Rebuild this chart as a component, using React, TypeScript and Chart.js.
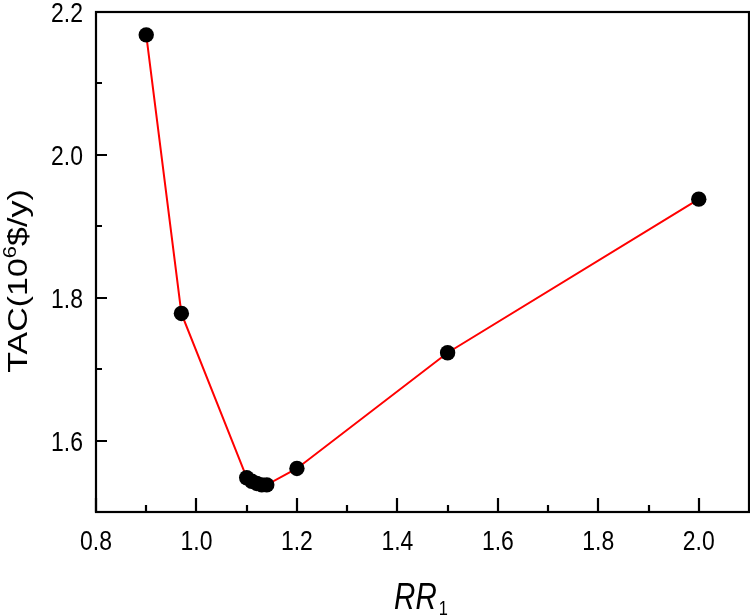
import React, { useEffect, useRef } from "react";
import { Chart, registerables } from "chart.js";

Chart.register(...registerables);

// Data
const rrValues = [0.9, 0.97, 1.1, 1.11, 1.12, 1.13, 1.14, 1.2, 1.5, 2.0];
const tacValues = [2.168, 1.778, 1.548, 1.543, 1.54, 1.538, 1.538, 1.561, 1.723, 1.938];

const xMajorTicks = [0.8, 1.0, 1.2, 1.4, 1.6, 1.8, 2.0];
const xMinorTicks = [0.9, 1.1, 1.3, 1.5, 1.7, 1.9];
const xTickLabels = ["0.8", "1.0", "1.2", "1.4", "1.6", "1.8", "2.0"];
const yMajorTicks = [2.2, 2.0, 1.8, 1.6];
const yMinorTicks = [2.1, 1.9, 1.7];
const yTickLabels = ["2.2", "2.0", "1.8", "1.6"];

const FONT = '"Liberation Sans", Arial, Helvetica, sans-serif';
const SQUASH = 0.82;

const axesPlugin = {
  id: "customAxes",
  afterDatasetsDraw(chart: any) {
    const ctx: CanvasRenderingContext2D = chart.ctx;
    const { left, right, top, bottom } = chart.chartArea;
    const xs = chart.scales.x;
    const ys = chart.scales.y;
    ctx.save();
    ctx.strokeStyle = "#000";
    ctx.lineWidth = 2.2;
    ctx.strokeRect(left, top, right - left, bottom - top);

    // inward ticks
    ctx.beginPath();
    xMajorTicks.forEach((v) => {
      const px = Math.round(xs.getPixelForValue(v));
      ctx.moveTo(px, bottom);
      ctx.lineTo(px, bottom - 14);
    });
    xMinorTicks.forEach((v) => {
      const px = Math.round(xs.getPixelForValue(v));
      ctx.moveTo(px, bottom);
      ctx.lineTo(px, bottom - 7);
    });
    yMajorTicks.forEach((v) => {
      const py = Math.round(ys.getPixelForValue(v));
      ctx.moveTo(left, py);
      ctx.lineTo(left + 11, py);
    });
    yMinorTicks.forEach((v) => {
      const py = Math.round(ys.getPixelForValue(v));
      ctx.moveTo(left, py);
      ctx.lineTo(left + 6, py);
    });
    ctx.stroke();

    ctx.fillStyle = "#000";
    const drawText = (text: string, x: number, y: number, font: string, align: CanvasTextAlign) => {
      ctx.save();
      ctx.font = font;
      ctx.textAlign = align;
      ctx.textBaseline = "alphabetic";
      ctx.translate(x, y);
      ctx.scale(SQUASH, 1);
      ctx.fillText(text, 0, 0);
      ctx.restore();
    };

    // x tick labels
    xMajorTicks.forEach((v, i) => {
      const px = xs.getPixelForValue(v);
      drawText(xTickLabels[i], px, 550, `28px ${FONT}`, "center");
    });
    // y tick labels
    yMajorTicks.forEach((v, i) => {
      const py = ys.getPixelForValue(v);
      drawText(yTickLabels[i], 83, py + 10, `28px ${FONT}`, "right");
    });

    // x title: RR with subscript 1
    ctx.save();
    const mainFont = `italic 36px ${FONT}`;
    const subFont = `20px ${FONT}`;
    ctx.font = mainFont;
    const wMain = ctx.measureText("RR").width * SQUASH;
    ctx.font = subFont;
    const wSub = ctx.measureText("1").width * SQUASH;
    ctx.restore();
    const cx = 421;
    const startX = cx - (wMain + wSub + 2) / 2;
    drawText("RR", startX, 609, mainFont, "left");
    drawText("1", startX + wMain + 2, 615, subFont, "left");

    // y title: TAC(10^6$/y)
    ctx.save();
    ctx.translate(27, 281);
    ctx.rotate(-Math.PI / 2);
    ctx.scale(1, SQUASH);
    ctx.textBaseline = "alphabetic";
    ctx.textAlign = "left";
    const f1 = `34px ${FONT}`;
    const f2 = `22px ${FONT}`;
    ctx.font = f1;
    const p1 = "TAC(10";
    const p3 = "$/y)";
    const w1 = ctx.measureText(p1).width;
    const w3 = ctx.measureText(p3).width;
    ctx.font = f2;
    const w2 = ctx.measureText("6").width;
    const total = w1 + w2 + w3;
    let x0 = -total / 2;
    ctx.font = f1;
    ctx.fillText(p1, x0, 0);
    x0 += w1;
    ctx.font = f2;
    ctx.fillText("6", x0, -14);
    x0 += w2;
    ctx.font = f1;
    ctx.fillText(p3, x0, 0);
    ctx.restore();

    ctx.restore();
  },
};

export default function App() {
  const canvasRef = useRef<HTMLCanvasElement | null>(null);

  useEffect(() => {
    if (!canvasRef.current) return;
    const chart = new Chart(canvasRef.current, {
      type: "line",
      data: {
        datasets: [
          {
            data: rrValues.map((x, i) => ({ x, y: tacValues[i] })),
            borderColor: "#ff0000",
            borderWidth: 2,
            tension: 0,
            pointRadius: 7.7,
            pointHoverRadius: 7.7,
            pointStyle: "circle",
            pointBackgroundColor: "#000",
            pointBorderColor: "#000",
            pointBorderWidth: 0,
          },
        ],
      },
      options: {
        responsive: false,
        animation: false,
        layout: { autoPadding: false, padding: { left: 96, top: 12, right: 1, bottom: 104 } },
        plugins: { legend: { display: false }, tooltip: { enabled: false } },
        scales: {
          x: { type: "linear", min: 0.8, max: 2.1, display: false },
          y: { type: "linear", min: 1.5, max: 2.2, display: false },
        },
      },
      plugins: [axesPlugin],
    });
    return () => chart.destroy();
  }, []);

  return (
    <div style={{ position: "absolute", left: 0, top: 0, width: 750, height: 616, background: "#fff" }}>
      <canvas ref={canvasRef} width={750} height={616} />
    </div>
  );
}
